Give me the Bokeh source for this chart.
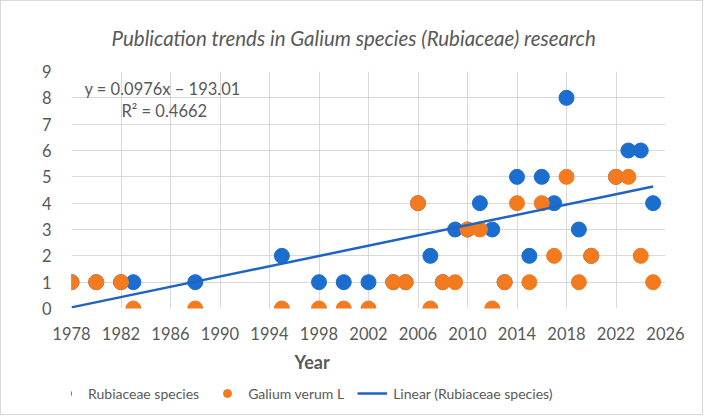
from bokeh.plotting import figure
from bokeh.layouts import column
from bokeh.models import FixedTicker, Label, Legend, LegendItem, ColumnDataSource, Title
from bokeh.embed import file_html
from bokeh.resources import INLINE

# ---- data ----
years = [1978, 1980, 1982, 1983, 1988, 1995, 1998, 2000, 2002, 2004, 2005, 2006, 2007, 2008, 2009,
         2010, 2011, 2012, 2013, 2014, 2015, 2016, 2017, 2018, 2019, 2020, 2022, 2023, 2024, 2025]
rubiaceae = [1, 1, 1, 1, 1, 2, 1, 1, 1, 1, 1, 4, 2, 1, 3,
             3, 4, 3, 1, 5, 2, 5, 4, 8, 3, 2, 5, 6, 6, 4]
galium = [1, 1, 1, 0, 0, 0, 0, 0, 0, 1, 1, 4, 0, 1, 1,
          3, 3, 0, 1, 4, 1, 4, 2, 5, 1, 2, 5, 5, 2, 1]
trend_slope = 0.0976
trend_intercept = -193.01
x_ticks = list(range(1978, 2027, 4))
y_ticks = list(range(0, 10))

title_text = "Publication trends in Galium species (Rubiaceae) research"
eq_text = "y = 0.0976x − 193.01"
r2_text = "R² = 0.4662"
series_names = ["Rubiaceae species", "Galium verum L", "Linear (Rubiaceae species)"]

BLUE = "#1B6ECF"
ORANGE = "#F47A20"
LINE = "#1F64C0"
GRAY = "#595959"
FONT = "Lato"

p = figure(width=701, height=378, x_range=(1978, 2026), y_range=(0, 9),
           output_backend="svg", toolbar_location=None,
           min_border_left=70, min_border_right=37, min_border_top=69, min_border_bottom=68)
p.outline_line_color = None
p.background_fill_color = "white"
p.border_fill_color = "white"

p.title.text = title_text
p.title.align = "left"
p.title.offset = 40
p.title.text_font = FONT
p.title.text_font_style = "italic"
p.title.text_font_size = "20.5px"
p.title.text_color = GRAY
p.title.standoff = 44

p.xaxis.ticker = FixedTicker(ticks=x_ticks)
p.yaxis.ticker = FixedTicker(ticks=y_ticks)
for ax in (p.xaxis, p.yaxis):
    ax.axis_line_color = None
    ax.major_tick_line_color = None
    ax.minor_tick_line_color = None
    ax.major_label_text_color = GRAY
    ax.major_label_text_font = FONT
    ax.major_label_text_font_size = "16.5px"
p.xaxis.major_label_standoff = 12
p.yaxis.major_label_standoff = 14
p.grid.grid_line_color = "#d9d9d9"
p.grid.grid_line_width = 1

src_b = ColumnDataSource(dict(x=years, y=rubiaceae))
src_o = ColumnDataSource(dict(x=years, y=galium))
p.scatter("x", "y", source=src_b, size=15, fill_color=BLUE, line_color=BLUE)
p.scatter("x", "y", source=src_o, size=15, fill_color=ORANGE, line_color=ORANGE)

tx = [min(years), max(years)]
ty = [trend_slope * v + trend_intercept for v in tx]
src_t = ColumnDataSource(dict(x=tx, y=ty))
p.line("x", "y", source=src_t, line_color=LINE, line_width=2.5)

p.add_layout(Title(text="Year", align="left", offset=223, text_font=FONT,
                   text_font_style="bold", text_font_size="18px", text_color=GRAY,
                   standoff=13), "below")

p.add_layout(Label(x=13, y=220, x_units="screen", y_units="screen", text=eq_text,
                   text_align="left", text_baseline="middle", text_font=FONT,
                   text_font_size="16.5px", text_color=GRAY))
p.add_layout(Label(x=50, y=198, x_units="screen", y_units="screen", text=r2_text,
                   text_align="left", text_baseline="middle", text_font=FONT,
                   text_font_size="16.5px", text_color=GRAY))

# legend strip: same sources, ranges that keep the marks out of view
q = figure(width=701, height=35, x_range=(0, 1), y_range=(0, 1),
           output_backend="svg", toolbar_location=None,
           x_axis_type=None, y_axis_type=None,
           min_border_left=0, min_border_right=0, min_border_top=0, min_border_bottom=0)
q.outline_line_color = None
q.grid.visible = False
lb = q.scatter("x", "y", source=src_b, size=15, fill_color=BLUE, line_color=BLUE)
lo = q.scatter("x", "y", source=src_o, size=15, fill_color=ORANGE, line_color=ORANGE)
ll = q.line("x", "y", source=src_t, line_color=LINE, line_width=2.5)
legend = Legend(items=[LegendItem(label=series_names[0], renderers=[lb]),
                       LegendItem(label=series_names[1], renderers=[lo]),
                       LegendItem(label=series_names[2], renderers=[ll])],
                orientation="horizontal", location=(-19, 11),
                border_line_color=None, background_fill_alpha=0,
                padding=0, margin=0, spacing=13, label_standoff=6,
                glyph_width=30, glyph_height=20,
                label_text_font=FONT, label_text_font_size="14px", label_text_color=GRAY)
q.add_layout(legend, "center")

layout = column(p, q, spacing=0, styles={"border": "1px solid #d9d9d9"})
open("out.html", "w").write(file_html(layout, INLINE))
